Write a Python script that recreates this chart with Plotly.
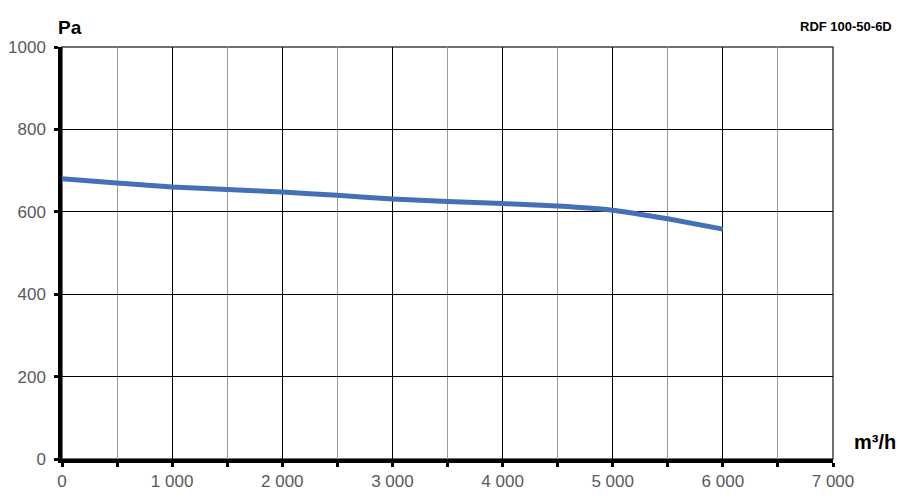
import plotly.graph_objects as go

# fan curve: airflow (m3/h) vs pressure (Pa)
airflow = [0, 500, 1000, 1500, 2000, 2500, 3000, 3500, 4000, 4500, 5000, 5500, 6000]
pressure = [680, 670, 660, 654, 648, 640, 631, 625, 620, 614, 604, 583, 558]

x_ticks = [0, 1000, 2000, 3000, 4000, 5000, 6000, 7000]
x_labels = ["0", "1 000", "2 000", "3 000", "4 000", "5 000", "6 000", "7 000"]
y_ticks = [0, 200, 400, 600, 800, 1000]
y_labels = ["0", "200", "400", "600", "800", "1000"]

LABEL_GREY = "#595959"

fig = go.Figure()

fig.add_trace(
    go.Scatter(
        x=airflow,
        y=pressure,
        mode="lines",
        line=dict(color="#4470b8", width=5, shape="spline", smoothing=0.4),
        showlegend=False,
    )
)

# thin frame on top/right
fig.add_shape(
    type="rect",
    xref="paper",
    yref="paper",
    x0=0,
    x1=1,
    y0=0,
    y1=1,
    line=dict(color="#404040", width=1.5),
    layer="below",
)

# page body has an 8px margin, so the figure is a bit smaller than the window
fig.update_layout(
    width=900,
    height=490,
    margin=dict(l=54, r=75, t=39, b=39),
    plot_bgcolor="white",
    paper_bgcolor="white",
    font=dict(family="Liberation Sans, Arial, sans-serif", size=17, color=LABEL_GREY),
    xaxis=dict(
        range=[0, 7000],
        tickvals=x_ticks,
        ticktext=x_labels,
        automargin=False,
        showgrid=True,
        gridcolor="#000000",
        gridwidth=1,
        showline=True,
        linecolor="#000000",
        linewidth=3.5,
        ticks="outside",
        ticklen=4,
        tickwidth=3,
        tickcolor="#000000",
        zeroline=False,
        minor=dict(
            dtick=500,
            tick0=0,
            showgrid=True,
            gridcolor="#9a9a9a",
            gridwidth=1,
            ticks="outside",
            ticklen=4,
            tickwidth=3,
            tickcolor="#000000",
        ),
        fixedrange=True,
    ),
    yaxis=dict(
        range=[0, 1000],
        tickvals=y_ticks,
        ticktext=y_labels,
        automargin=False,
        ticklabelstandoff=5,
        showgrid=True,
        gridcolor="#000000",
        gridwidth=1,
        showline=True,
        linecolor="#000000",
        linewidth=3.5,
        ticks="outside",
        ticklen=4,
        tickwidth=3,
        tickcolor="#000000",
        zeroline=False,
        fixedrange=True,
    ),
    annotations=[
        dict(
            text="<b>Pa</b>",
            xref="paper",
            yref="paper",
            x=0,
            y=1,
            xanchor="left",
            yanchor="bottom",
            xshift=-6,
            yshift=7,
            showarrow=False,
            font=dict(size=19, color="#000000"),
        ),
        dict(
            text="<b>m³/h</b>",
            xref="paper",
            yref="paper",
            x=1,
            y=0,
            xanchor="left",
            yanchor="bottom",
            xshift=19,
            yshift=4,
            showarrow=False,
            font=dict(size=20, color="#000000"),
        ),
        dict(
            text="<b>RDF 100-50-6D</b>",
            xref="paper",
            yref="paper",
            x=1,
            y=1,
            xanchor="left",
            yanchor="bottom",
            xshift=-35,
            yshift=11,
            showarrow=False,
            font=dict(size=13, color="#000000"),
        ),
    ],
)

fig.write_html("out.html")
